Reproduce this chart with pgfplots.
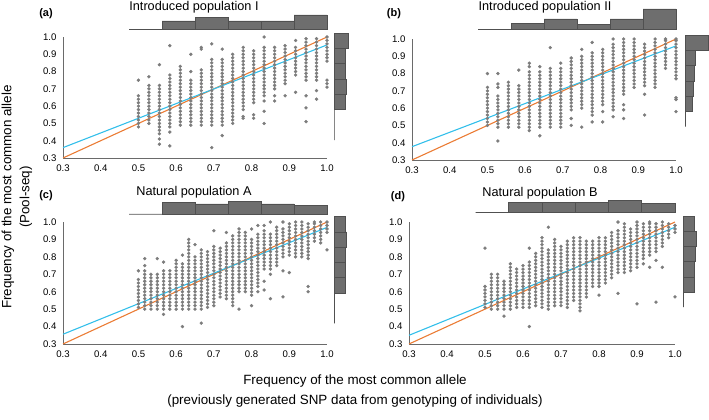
\documentclass[border=0pt]{standalone}
\usepackage{pgfplots}
\pgfplotsset{compat=1.18}
\usepackage{fontspec}
\setmainfont{Liberation Sans}

\definecolor{dotgray}{HTML}{7C7C7C}
\definecolor{axgray}{HTML}{6A6A6A}
\definecolor{histfill}{HTML}{6E6E6E}
\definecolor{histedge}{HTML}{505050}
\definecolor{fitblue}{HTML}{33BFEA}
\definecolor{oneorange}{HTML}{EB7C35}

\pgfplotsset{
  scat/.style={scale only axis, anchor=south west, clip=false,
    xmin=0.3, xmax=1.0, ymin=0.3, ymax=1.0,
    axis lines=left, axis line style={-, draw=axgray, line width=0.8pt},
    major tick length=0pt,
    xtick={0.3,0.4,0.5,0.6,0.7,0.8,0.9,1.0},
    xticklabels={0.3,0.4,0.5,0.6,0.7,0.8,0.9,1.0},
    ytick={0.3,0.4,0.5,0.6,0.7,0.8,0.9,1.0},
    yticklabels={0.3,0.4,0.5,0.6,0.7,0.8,0.9,1.0},
    tick label style={font=\fontsize{9.6}{11}\selectfont},
    xticklabel style={yshift=-3pt},
    yticklabel style={xshift=-3pt}},
  tophist/.style={scale only axis, anchor=south west, clip=false, hide axis,
    height=25pt, xmin=0.3, xmax=1.0, ymin=0, ymax=25, ybar interval},
  sidehist/.style={scale only axis, anchor=south west, clip=false, hide axis,
    width=25pt, xmin=0, xmax=25, ymin=0.3, ymax=1.0, xbar interval},
  pts/.style={only marks, mark=*, mark size=1.5pt, color=dotgray,
    mark options={draw=none, fill=dotgray}},
  hbar/.style={fill=histfill, draw=histedge, line width=0.6pt},
  oneline/.style={no marks, oneorange, line width=1.1pt},
  fitline/.style={no marks, fitblue, line width=1.1pt},
}
\newcommand{\col}[2]{\addplot[pts] table[header=false, x expr={#1}, y index=0, row sep=\\]{#2};}

\begin{document}
\begin{tikzpicture}
\path[use as bounding box] (0pt,0pt) rectangle (709pt,420pt);

% ---------------- (a) ----------------
\begin{axis}[scat, at={(63pt,262pt)}, width=264pt, height=121pt]
\col{0.5000}{0.48\\0.50\\0.52\\0.54\\0.56\\0.58\\0.60\\0.62\\0.64\\0.66\\0.75\\}
\col{0.5278}{0.50\\0.52\\0.54\\0.56\\0.58\\0.60\\0.62\\0.64\\0.66\\0.68\\0.70\\0.72\\0.77\\}
\col{0.5556}{0.38\\0.41\\0.44\\0.46\\0.48\\0.50\\0.52\\0.54\\0.56\\0.58\\0.60\\0.62\\0.64\\0.66\\0.68\\0.70\\0.72\\0.84\\}
\col{0.5833}{0.37\\0.45\\0.48\\0.50\\0.52\\0.54\\0.56\\0.58\\0.60\\0.62\\0.64\\0.66\\0.68\\0.70\\0.72\\0.74\\0.76\\0.78\\0.95\\}
\col{0.6111}{0.49\\0.51\\0.53\\0.55\\0.57\\0.59\\0.61\\0.63\\0.65\\0.67\\0.69\\0.71\\0.73\\0.75\\0.77\\0.79\\0.81\\0.83\\}
\col{0.6389}{0.49\\0.51\\0.53\\0.55\\0.57\\0.59\\0.61\\0.63\\0.65\\0.67\\0.69\\0.71\\0.73\\0.75\\0.80\\0.90\\}
\col{0.6667}{0.49\\0.51\\0.53\\0.55\\0.57\\0.59\\0.61\\0.63\\0.65\\0.67\\0.69\\0.71\\0.73\\0.75\\0.77\\0.79\\0.81\\0.93\\0.94\\}
\col{0.6944}{0.36\\0.49\\0.51\\0.53\\0.55\\0.57\\0.59\\0.61\\0.63\\0.65\\0.67\\0.69\\0.71\\0.73\\0.75\\0.77\\0.79\\0.81\\0.83\\0.85\\0.87\\0.96\\}
\col{0.7222}{0.43\\0.49\\0.51\\0.53\\0.55\\0.57\\0.59\\0.61\\0.63\\0.65\\0.67\\0.69\\0.71\\0.73\\0.75\\0.77\\0.79\\0.81\\0.83\\0.85\\0.87\\0.93\\}
\col{0.7500}{0.50\\0.52\\0.54\\0.56\\0.58\\0.60\\0.62\\0.64\\0.66\\0.68\\0.70\\0.72\\0.74\\0.76\\0.78\\0.80\\0.82\\0.84\\0.86\\0.88\\0.90\\}
\col{0.7778}{0.53\\0.54\\0.58\\0.60\\0.62\\0.64\\0.66\\0.68\\0.70\\0.72\\0.74\\0.76\\0.78\\0.80\\0.82\\0.84\\0.86\\0.88\\0.90\\0.92\\0.94\\}
\col{0.8056}{0.53\\0.55\\0.62\\0.64\\0.66\\0.68\\0.70\\0.72\\0.74\\0.76\\0.78\\0.80\\0.82\\0.84\\0.86\\0.88\\0.90\\0.92\\}
\col{0.8333}{0.50\\0.57\\0.63\\0.66\\0.68\\0.70\\0.72\\0.74\\0.76\\0.78\\0.80\\0.82\\0.84\\0.86\\0.88\\0.90\\0.92\\0.94\\1.00\\}
\col{0.8611}{0.63\\0.66\\0.70\\0.72\\0.74\\0.76\\0.78\\0.80\\0.82\\0.84\\0.86\\0.88\\0.90\\0.92\\0.94\\}
\col{0.8889}{0.66\\0.73\\0.75\\0.77\\0.79\\0.81\\0.83\\0.85\\0.87\\0.89\\0.91\\0.93\\0.95\\}
\col{0.9167}{0.68\\0.78\\0.80\\0.82\\0.84\\0.86\\0.88\\0.90\\0.92\\0.94\\0.98\\}
\col{0.9444}{0.51\\0.59\\0.66\\0.75\\0.77\\0.79\\0.81\\0.83\\0.85\\0.87\\0.89\\0.91\\0.93\\0.95\\0.97\\0.99\\}
\col{0.9722}{0.64\\0.69\\0.75\\0.77\\0.79\\0.81\\0.83\\0.85\\0.87\\0.89\\0.91\\0.93\\0.95\\0.97\\0.99\\}
\col{1.0000}{0.71\\0.73\\0.75\\0.86\\0.88\\0.90\\0.92\\0.94\\0.96\\0.98\\1.00\\}
\addplot[oneline] coordinates {(0.3,0.3) (1.0,1.0)};
\addplot[fitline] coordinates {(0.3,0.360) (1.0,0.954)};
\end{axis}
\begin{axis}[tophist, at={(63pt,390.7pt)}, width=264pt]
\addplot[hbar] coordinates {(0.475,0) (0.5625,8.3) (0.65,11.6) (0.7375,8.3) (0.825,8.3) (0.9125,14.3) (1.0,0)};
\end{axis}
\begin{axis}[sidehist, at={(334pt,262pt)}, height=121pt]
\addplot[hbar] coordinates {(0,0.404) (0,0.492) (11,0.581) (12,0.669) (11,0.757) (11,0.845) (14,0.933) (0,1.021)};
\end{axis}

% ---------------- (b) ----------------
\begin{axis}[scat, at={(412pt,260pt)}, width=264pt, height=121pt]
\col{0.5000}{0.50\\0.52\\0.54\\0.56\\0.58\\0.60\\0.62\\0.64\\0.66\\0.68\\0.70\\0.72\\0.80\\}
\col{0.5278}{0.41\\0.49\\0.51\\0.53\\0.55\\0.57\\0.59\\0.61\\0.63\\0.65\\0.67\\0.72\\0.74\\0.80\\}
\col{0.5556}{0.49\\0.51\\0.53\\0.55\\0.57\\0.59\\0.61\\0.63\\0.65\\0.67\\0.69\\0.71\\0.73\\0.75\\}
\col{0.5833}{0.49\\0.51\\0.53\\0.55\\0.57\\0.59\\0.61\\0.63\\0.65\\0.67\\0.69\\0.71\\0.73\\0.82\\}
\col{0.6111}{0.47\\0.49\\0.51\\0.53\\0.55\\0.57\\0.59\\0.61\\0.63\\0.65\\0.67\\0.69\\0.71\\0.73\\0.75\\0.77\\0.79\\0.81\\0.84\\0.86\\}
\col{0.6389}{0.44\\0.49\\0.51\\0.53\\0.55\\0.57\\0.59\\0.61\\0.63\\0.65\\0.67\\0.69\\0.71\\0.73\\0.75\\0.77\\0.79\\0.81\\0.84\\}
\col{0.6667}{0.49\\0.51\\0.53\\0.55\\0.57\\0.59\\0.61\\0.63\\0.65\\0.67\\0.69\\0.71\\0.73\\0.75\\0.77\\0.79\\0.81\\0.83\\0.95\\}
\col{0.6944}{0.49\\0.51\\0.53\\0.55\\0.57\\0.59\\0.61\\0.63\\0.65\\0.67\\0.69\\0.71\\0.73\\0.75\\0.77\\0.79\\0.81\\0.83\\0.86\\}
\col{0.7222}{0.50\\0.54\\0.59\\0.61\\0.63\\0.65\\0.67\\0.69\\0.71\\0.73\\0.75\\0.77\\0.79\\0.81\\0.83\\0.85\\0.87\\0.89\\}
\col{0.7500}{0.49\\0.60\\0.62\\0.64\\0.66\\0.68\\0.70\\0.72\\0.74\\0.76\\0.78\\0.80\\0.82\\0.84\\0.86\\0.88\\0.90\\0.94\\}
\col{0.7778}{0.52\\0.56\\0.58\\0.60\\0.62\\0.64\\0.66\\0.68\\0.70\\0.72\\0.74\\0.76\\0.78\\0.80\\0.82\\0.84\\0.86\\0.88\\0.90\\0.92\\0.98\\}
\col{0.8056}{0.52\\0.58\\0.62\\0.64\\0.66\\0.68\\0.70\\0.72\\0.74\\0.76\\0.78\\0.80\\0.82\\0.84\\0.86\\0.88\\0.90\\0.92\\0.94\\}
\col{0.8333}{0.55\\0.59\\0.61\\0.63\\0.65\\0.67\\0.69\\0.71\\0.73\\0.75\\0.77\\0.79\\0.81\\0.83\\0.85\\0.87\\0.89\\0.91\\0.93\\0.95\\0.97\\1.00\\}
\col{0.8611}{0.54\\0.59\\0.62\\0.68\\0.70\\0.72\\0.74\\0.76\\0.78\\0.80\\0.82\\0.84\\0.86\\0.88\\0.90\\0.92\\0.94\\0.96\\0.98\\1.00\\}
\col{0.8889}{0.72\\0.74\\0.76\\0.78\\0.80\\0.82\\0.84\\0.86\\0.88\\0.90\\0.92\\0.94\\0.96\\0.98\\1.00\\}
\col{0.9167}{0.56\\0.68\\0.73\\0.75\\0.77\\0.79\\0.81\\0.83\\0.85\\0.87\\0.89\\0.91\\0.93\\0.95\\0.97\\}
\col{0.9444}{0.72\\0.74\\0.76\\0.78\\0.80\\0.82\\0.84\\0.86\\0.88\\0.90\\0.92\\0.94\\0.96\\0.98\\1.00\\}
\col{0.9722}{0.83\\0.85\\0.87\\0.89\\0.91\\0.93\\0.95\\0.97\\0.99\\1.00\\}
\col{1.0000}{0.58\\0.65\\0.66\\0.77\\0.79\\0.81\\0.83\\0.85\\0.87\\0.89\\0.91\\0.93\\0.95\\0.97\\0.99\\1.00\\}
\addplot[oneline] coordinates {(0.3,0.3) (1.0,1.0)};
\addplot[fitline] coordinates {(0.3,0.377) (1.0,0.960)};
\end{axis}
\begin{axis}[tophist, at={(412pt,390.7pt)}, width=264pt]
\addplot[hbar] coordinates {(0.475,0) (0.5625,6) (0.65,10.3) (0.7375,5) (0.825,10.3) (0.9125,20.3) (1.0,0)};
\end{axis}
\begin{axis}[sidehist, at={(685pt,260pt)}, height=121pt]
\addplot[hbar] coordinates {(0,0.493) (7.7,0.581) (8.3,0.670) (9.3,0.758) (10,0.846) (23,0.935) (0,1.023)};
\end{axis}

% ---------------- (c) ----------------
\begin{axis}[scat, at={(63pt,76pt)}, width=264pt, height=122pt]
\col{0.5000}{0.51\\0.53\\0.55\\0.57\\0.59\\0.61\\0.63\\0.65\\0.67\\0.72\\}
\col{0.5167}{0.50\\0.52\\0.54\\0.56\\0.58\\0.60\\0.62\\0.64\\0.66\\0.68\\0.70\\0.72\\0.75\\0.79\\}
\col{0.5333}{0.50\\0.52\\0.54\\0.56\\0.58\\0.60\\0.62\\0.64\\0.66\\0.68\\0.70\\}
\col{0.5500}{0.50\\0.52\\0.54\\0.56\\0.58\\0.60\\0.62\\0.64\\0.66\\0.68\\0.70\\0.79\\}
\col{0.5667}{0.47\\0.50\\0.52\\0.54\\0.56\\0.58\\0.60\\0.62\\0.64\\0.66\\0.68\\0.70\\0.72\\0.77\\}
\col{0.5833}{0.50\\0.52\\0.54\\0.56\\0.58\\0.60\\0.62\\0.64\\0.66\\0.68\\0.70\\0.72\\}
\col{0.6000}{0.50\\0.52\\0.54\\0.56\\0.58\\0.60\\0.62\\0.64\\0.66\\0.68\\0.70\\0.72\\0.74\\0.76\\0.78\\}
\col{0.6167}{0.40\\0.50\\0.52\\0.54\\0.56\\0.58\\0.60\\0.62\\0.64\\0.66\\0.68\\0.70\\0.72\\0.74\\0.76\\0.81\\}
\col{0.6333}{0.50\\0.52\\0.54\\0.56\\0.58\\0.60\\0.62\\0.64\\0.66\\0.68\\0.70\\0.72\\0.74\\0.76\\0.78\\0.80\\0.82\\0.84\\0.86\\0.88\\0.90\\}
\col{0.6500}{0.50\\0.52\\0.54\\0.56\\0.58\\0.60\\0.62\\0.64\\0.66\\0.68\\0.70\\0.72\\0.74\\0.76\\0.78\\0.80\\0.87\\}
\col{0.6667}{0.42\\0.50\\0.52\\0.54\\0.56\\0.58\\0.60\\0.62\\0.64\\0.66\\0.68\\0.70\\0.72\\0.74\\0.76\\0.78\\0.80\\0.82\\0.84\\}
\col{0.6833}{0.51\\0.53\\0.55\\0.57\\0.59\\0.61\\0.63\\0.65\\0.67\\0.69\\0.71\\0.73\\0.75\\0.77\\0.79\\0.81\\0.83\\}
\col{0.7000}{0.52\\0.54\\0.56\\0.58\\0.60\\0.62\\0.64\\0.66\\0.68\\0.70\\0.72\\0.74\\0.76\\0.78\\0.80\\0.82\\0.84\\0.86\\0.95\\}
\col{0.7167}{0.57\\0.59\\0.61\\0.63\\0.65\\0.67\\0.69\\0.71\\0.73\\0.75\\0.77\\0.79\\0.81\\0.83\\0.85\\}
\col{0.7333}{0.56\\0.58\\0.60\\0.62\\0.64\\0.66\\0.68\\0.70\\0.72\\0.74\\0.76\\0.78\\0.80\\0.82\\0.84\\0.86\\0.88\\0.94\\}
\col{0.7500}{0.52\\0.54\\0.56\\0.58\\0.60\\0.62\\0.64\\0.66\\0.68\\0.70\\0.72\\0.74\\0.76\\0.78\\0.80\\0.82\\0.84\\0.86\\0.88\\0.90\\0.92\\}
\col{0.7667}{0.50\\0.60\\0.62\\0.64\\0.66\\0.68\\0.70\\0.72\\0.74\\0.76\\0.78\\0.80\\0.82\\0.84\\0.86\\0.88\\0.90\\0.92\\0.94\\0.96\\}
\col{0.7833}{0.60\\0.62\\0.64\\0.66\\0.68\\0.70\\0.72\\0.74\\0.76\\0.78\\0.80\\0.82\\0.84\\0.86\\0.88\\0.90\\0.92\\0.94\\}
\col{0.8000}{0.52\\0.58\\0.60\\0.62\\0.64\\0.66\\0.68\\0.70\\0.72\\0.74\\0.76\\0.78\\0.80\\0.82\\0.84\\0.86\\0.88\\0.90\\0.96\\}
\col{0.8167}{0.60\\0.63\\0.65\\0.67\\0.69\\0.71\\0.73\\0.75\\0.77\\0.79\\0.81\\0.83\\0.85\\0.87\\0.89\\0.91\\0.93\\0.98\\}
\col{0.8333}{0.61\\0.66\\0.73\\0.75\\0.77\\0.79\\0.81\\0.83\\0.85\\0.87\\0.89\\0.91\\0.93\\0.95\\0.98\\}
\col{0.8500}{0.56\\0.70\\0.73\\0.75\\0.77\\0.79\\0.81\\0.83\\0.85\\0.87\\0.89\\0.91\\0.93\\1.00\\}
\col{0.8667}{0.75\\0.77\\0.79\\0.81\\0.83\\0.85\\0.87\\0.89\\0.91\\0.93\\0.95\\0.97\\}
\col{0.8833}{0.57\\0.72\\0.80\\0.82\\0.84\\0.86\\0.88\\0.90\\0.92\\0.94\\0.96\\1.00\\}
\col{0.9000}{0.71\\0.81\\0.83\\0.85\\0.87\\0.89\\0.91\\0.93\\0.95\\0.97\\0.99\\}
\col{0.9167}{0.80\\0.82\\0.84\\0.86\\0.88\\0.90\\0.92\\0.94\\0.96\\0.98\\1.00\\}
\col{0.9333}{0.80\\0.82\\0.84\\0.86\\0.88\\0.90\\0.92\\0.94\\0.96\\0.98\\1.00\\}
\col{0.9500}{0.60\\0.63\\0.79\\0.81\\0.83\\0.85\\0.87\\0.89\\0.91\\0.93\\0.95\\0.97\\0.99\\}
\col{0.9667}{0.89\\0.91\\0.93\\0.95\\0.97\\0.99\\1.00\\}
\col{0.9833}{0.88\\0.90\\0.92\\0.94\\0.96\\0.98\\1.00\\}
\col{1.0000}{0.84\\0.94\\0.96\\0.98\\1.00\\}
\addplot[oneline] coordinates {(0.3,0.3) (1.0,1.0)};
\addplot[fitline] coordinates {(0.3,0.356) (1.0,0.969)};
\end{axis}
\begin{axis}[tophist, at={(63pt,206pt)}, width=264pt]
\addplot[hbar] coordinates {(0.475,0) (0.5625,11.3) (0.65,10) (0.7375,12.3) (0.825,10) (0.9125,8.3) (1.0,0)};
\end{axis}
\begin{axis}[sidehist, at={(334.3pt,76pt)}, height=122pt]
\addplot[hbar] coordinates {(0,0.419) (0,0.506) (11.3,0.593) (11.3,0.681) (10.7,0.768) (12.3,0.855) (11.3,0.943) (0,1.030)};
\end{axis}

% ---------------- (d) ----------------
\begin{axis}[scat, at={(409pt,76pt)}, width=266pt, height=122pt]
\col{0.5000}{0.51\\0.53\\0.55\\0.57\\0.59\\0.61\\0.63\\0.85\\}
\col{0.5167}{0.50\\0.52\\0.54\\0.56\\0.58\\0.60\\0.62\\0.64\\0.66\\0.68\\0.70\\}
\col{0.5333}{0.50\\0.52\\0.54\\0.56\\0.58\\0.60\\0.62\\0.64\\0.66\\0.68\\0.70\\}
\col{0.5500}{0.46\\0.50\\0.52\\0.54\\0.56\\0.58\\0.60\\0.62\\0.64\\0.66\\}
\col{0.5667}{0.50\\0.52\\0.54\\0.56\\0.58\\0.60\\0.62\\0.64\\0.66\\0.68\\0.70\\0.72\\0.74\\0.76\\}
\col{0.5833}{0.51\\0.53\\0.55\\0.57\\0.59\\0.61\\0.63\\0.65\\0.67\\0.69\\0.71\\0.73\\}
\col{0.6000}{0.51\\0.53\\0.55\\0.57\\0.59\\0.61\\0.63\\0.65\\0.67\\0.69\\0.71\\0.73\\0.75\\}
\col{0.6167}{0.40\\0.51\\0.53\\0.55\\0.57\\0.59\\0.61\\0.63\\0.65\\0.67\\0.69\\0.71\\0.73\\0.75\\0.77\\0.85\\}
\col{0.6333}{0.52\\0.54\\0.56\\0.58\\0.60\\0.62\\0.64\\0.66\\0.68\\0.70\\0.72\\0.74\\0.76\\0.78\\0.80\\0.82\\}
\col{0.6500}{0.51\\0.53\\0.55\\0.57\\0.59\\0.61\\0.63\\0.65\\0.67\\0.69\\0.71\\0.73\\0.75\\0.77\\0.79\\0.81\\0.83\\0.85\\0.87\\0.89\\0.91\\}
\col{0.6667}{0.50\\0.52\\0.54\\0.56\\0.58\\0.60\\0.62\\0.64\\0.66\\0.68\\0.70\\0.72\\0.74\\0.76\\0.78\\0.80\\0.82\\0.84\\0.97\\}
\col{0.6833}{0.52\\0.54\\0.56\\0.58\\0.60\\0.62\\0.64\\0.66\\0.68\\0.70\\0.72\\0.74\\0.76\\0.78\\0.80\\0.82\\0.84\\0.86\\0.88\\0.90\\}
\col{0.7000}{0.52\\0.54\\0.56\\0.58\\0.60\\0.62\\0.64\\0.66\\0.68\\0.70\\0.72\\0.74\\0.76\\0.78\\0.80\\0.82\\0.84\\0.86\\}
\col{0.7167}{0.51\\0.53\\0.55\\0.57\\0.59\\0.61\\0.63\\0.65\\0.67\\0.69\\0.71\\0.73\\0.75\\0.77\\0.79\\0.81\\0.83\\0.85\\0.87\\0.89\\}
\col{0.7333}{0.55\\0.57\\0.59\\0.61\\0.63\\0.65\\0.67\\0.69\\0.71\\0.73\\0.75\\0.77\\0.79\\0.81\\0.83\\0.85\\0.87\\0.89\\0.91\\}
\col{0.7500}{0.49\\0.51\\0.53\\0.55\\0.57\\0.59\\0.61\\0.63\\0.65\\0.67\\0.69\\0.71\\0.73\\0.75\\0.77\\0.79\\0.81\\0.83\\0.85\\0.87\\0.89\\0.91\\}
\col{0.7667}{0.57\\0.59\\0.61\\0.63\\0.65\\0.67\\0.69\\0.71\\0.73\\0.75\\0.77\\0.79\\0.81\\0.83\\0.85\\0.87\\0.89\\}
\col{0.7833}{0.63\\0.65\\0.67\\0.69\\0.71\\0.73\\0.75\\0.77\\0.79\\0.81\\0.83\\0.85\\0.87\\0.89\\}
\col{0.8000}{0.58\\0.63\\0.65\\0.67\\0.69\\0.71\\0.73\\0.75\\0.77\\0.79\\0.81\\0.83\\0.85\\0.87\\0.89\\0.91\\}
\col{0.8167}{0.65\\0.67\\0.69\\0.71\\0.73\\0.75\\0.77\\0.79\\0.81\\0.83\\0.85\\0.87\\0.89\\0.91\\}
\col{0.8333}{0.68\\0.70\\0.72\\0.74\\0.76\\0.78\\0.80\\0.82\\0.84\\0.86\\0.88\\0.90\\0.92\\0.94\\}
\col{0.8500}{0.59\\0.71\\0.73\\0.75\\0.77\\0.79\\0.81\\0.83\\0.85\\0.87\\0.89\\0.91\\0.93\\0.95\\1.00\\}
\col{0.8667}{0.71\\0.73\\0.75\\0.77\\0.79\\0.81\\0.83\\0.85\\0.87\\0.89\\0.91\\0.93\\0.95\\0.97\\0.99\\}
\col{0.8833}{0.72\\0.74\\0.76\\0.78\\0.80\\0.82\\0.84\\0.86\\0.88\\0.90\\0.92\\0.94\\0.96\\}
\col{0.9000}{0.53\\0.74\\0.76\\0.78\\0.80\\0.82\\0.84\\0.86\\0.88\\0.90\\0.92\\0.94\\0.96\\0.98\\1.00\\}
\col{0.9167}{0.76\\0.79\\0.81\\0.83\\0.85\\0.87\\0.89\\0.91\\0.93\\0.95\\0.97\\0.99\\}
\col{0.9333}{0.74\\0.81\\0.83\\0.85\\0.87\\0.89\\0.91\\0.93\\0.95\\0.97\\0.99\\1.00\\}
\col{0.9500}{0.54\\0.78\\0.83\\0.85\\0.87\\0.89\\0.91\\0.93\\0.95\\0.97\\0.99\\}
\col{0.9667}{0.74\\0.86\\0.88\\0.90\\0.92\\0.94\\0.96\\0.98\\1.00\\}
\col{0.9833}{0.91\\0.93\\0.95\\0.97\\0.99\\}
\col{1.0000}{0.57\\0.94\\0.96\\0.98\\}
\addplot[oneline] coordinates {(0.3,0.3) (1.0,1.0)};
\addplot[fitline] coordinates {(0.3,0.350) (1.0,0.970)};
\end{axis}
\begin{axis}[tophist, at={(409pt,207.3pt)}, width=266pt]
\addplot[hbar] coordinates {(0.475,0) (0.5625,10.3) (0.65,10.3) (0.7375,10.3) (0.825,12) (0.9125,9.3) (1.0,0)};
\end{axis}
\begin{axis}[sidehist, at={(683.3pt,76pt)}, height=122pt]
\addplot[hbar] coordinates {(0,0.511) (11,0.598) (11,0.685) (12.3,0.772) (13.3,0.860) (11,0.947) (0,1.034)};
\end{axis}

% ---------------- labels ----------------
\node[font=\bfseries\fontsize{11}{12}\selectfont] at (46pt,406pt) {(a)};
\node[font=\bfseries\fontsize{11}{12}\selectfont] at (394pt,406pt) {(b)};
\node[font=\bfseries\fontsize{11}{12}\selectfont] at (46pt,224pt) {(c)};
\node[font=\bfseries\fontsize{11}{12}\selectfont] at (398pt,223pt) {(d)};
\node[font=\fontsize{12.7}{14}\selectfont] at (194pt,413pt) {Introduced population I};
\node[font=\fontsize{12.7}{14}\selectfont] at (545pt,413pt) {Introduced population II};
\node[font=\fontsize{12.7}{14}\selectfont] at (194pt,228pt) {Natural population A};
\node[font=\fontsize{12.7}{14}\selectfont] at (540pt,227pt) {Natural population B};
\node[rotate=90, align=center, font=\fontsize{13.4}{18}\selectfont] at (17pt,223pt) {Frequency of the most common allele\\(Pool-seq)};
\node[font=\fontsize{13.4}{15}\selectfont] at (355pt,39pt) {Frequency of the most common allele};
\node[font=\fontsize{13.4}{15}\selectfont] at (355pt,19pt) {(previously generated SNP data from genotyping of individuals)};
\end{tikzpicture}
\end{document}
